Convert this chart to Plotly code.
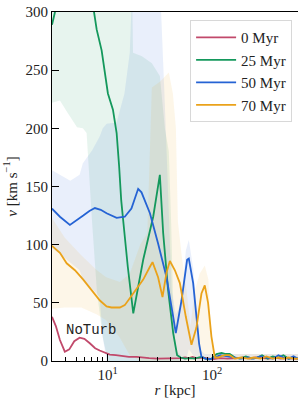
import plotly.graph_objects as go
import numpy as np

# ---- data (r in kpc, v in km/s) ----
labels = ["0 Myr", "25 Myr", "50 Myr", "70 Myr"]
colors = ["#c1496b", "#14985c", "#2563d4", "#eaa21a"]
band_colors = ["rgba(193,73,107,0.10)", "rgba(20,152,92,0.10)",
               "rgba(37,99,212,0.10)", "rgba(234,162,26,0.10)"]

r_0 = [2.94, 3.2, 3.5, 3.9, 4.3, 4.8, 5.4, 6.0, 6.8, 7.6, 8.4, 9.5, 10.5, 12, 14, 16, 19, 22, 25, 30,
       35, 40, 45, 50, 55, 60, 65, 70, 80, 90, 100, 110, 120, 140, 160, 180, 200, 230, 260, 300,
       350, 400, 450, 500, 560, 620, 662]
v_0 = [38, 30, 18, 8, 10, 17, 20, 19, 15, 11, 9, 7, 5.5, 5, 4, 3.5, 3.5, 2.8, 2.5, 2,
       2, 2, 2, 2.5, 3, 2.5, 3.5, 2.5, 3, 2, 1.5, 2, 2.5, 2, 2, 2.5, 3, 2, 3, 2.5,
       2, 3, 2, 2.5, 2, 2, 2]

r_25 = [2.94, 3.14, 3.6, 4.2, 5.0, 5.8, 6.6, 7.45, 7.86, 8.77, 10.07, 11.25, 12.2, 12.9, 13.5, 14.2,
        15.6, 17.6, 21.9, 27.3, 31.6, 34.0, 37.9, 42.4, 46.2, 50, 55, 62, 68, 74, 79, 86, 93, 99,
        110, 123, 135, 147, 165, 184, 210, 240, 270, 300, 340, 380, 430, 480, 540, 600, 662]
v_25 = [289, 300, 330, 355, 365, 355, 330, 300, 285, 267, 230, 216, 196, 167, 138, 118,
        81, 41, 87, 124, 160, 110, 61, 24, 5, 3, 2, 2.5, 2, 3, 3.5, 2, 1.5, 2,
        6, 7, 6, 6, 3, 2, 4, 2, 3, 5, 2, 4, 3, 5, 2, 3, 2]

r_50 = [2.94, 3.02, 3.5, 4.36, 5.1, 5.85, 6.7, 7.56, 8.6, 9.78, 12.2, 14.6, 16.9, 18.3, 19.6, 21.1,
        25.4, 30.4, 36.6, 42.4, 44.9, 50.9, 57.6, 59.8, 65.8, 70.8, 75, 79, 86, 95, 105, 120, 140,
        165, 190, 220, 250, 290, 330, 380, 430, 480, 540, 600, 662]
v_50 = [131, 130, 124, 117, 121, 125, 129, 131.5, 130, 127, 123, 124, 131, 140, 148, 145,
        127, 101, 72, 38, 24, 52, 87, 88, 67, 38, 15, 3.5, 2, 1.5, 3, 5, 4,
        3, 2, 3, 2, 4, 3, 2, 5, 3, 2, 4, 2]

r_70 = [2.94, 3.02, 3.5, 4.06, 4.87, 5.85, 7.03, 8.44, 9.78, 10.9, 13.1, 14.6, 16.3, 21.9, 25.4,
        26.9, 30.4, 33.5, 36.6, 39.4, 44, 49.1, 56, 63.4, 70.8, 79, 85, 91.4, 98.4, 106, 115, 124,
        135, 147, 165, 190, 220, 250, 290, 330, 380, 430, 480, 540, 600, 662]
v_70 = [99, 98, 93, 84, 78, 70, 61, 52, 47, 46, 46, 48, 54, 70, 81,
        85, 72, 55, 76, 86, 78, 67, 38, 14, 29, 58, 65, 50, 21, 3, 3, 4.5,
        5, 5, 2, 3, 2, 3, 2, 4, 2, 3, 2, 3, 2, 2]

# scatter bands (lower / upper envelopes)
band_r_25 = [2.94, 3.5, 4.1, 5.1, 5.8, 6.3, 7.1, 7.9, 9.0, 10.1, 13.1, 16.7, 17.5, 21.3, 26.5,
             31.6, 35.3, 38.5, 40.5, 42.1, 44.0, 46.0, 50]
band_lo_25 = [222, 224, 214, 201, 200, 196, 120, 60, 20, 0, 0, 0, 0, 0, 0,
              0, 0, 0, 0, 0, 0, 0, 0]
band_hi_25 = [400, 400, 400, 400, 400, 400, 400, 400, 400, 400, 400, 400, 265, 262, 256,
              245, 200, 180, 120, 60, 20, 8, 5]

band_r_50 = [2.94, 3.5, 4.4, 5.4, 5.8, 7.1, 8.4, 9.0, 9.8, 12.2, 14.5, 16.3, 17.0, 30, 32.5,
             35.3, 38.5, 41.0, 44.9, 50.9, 56, 59.8, 65.8, 71.9, 75.9, 85, 100, 662]
band_lo_50 = [97, 92, 85, 78, 70, 62, 55, 20, 0, 0, 0, 0, 0, 0, 0,
              0, 0, 0, 0, 0, 0, 10, 5, 0, 0, 0, 0, 0]
band_hi_50 = [164, 160, 155, 160, 170, 181, 193, 200, 204, 205, 230, 265, 310, 310, 300,
              220, 120, 60, 40, 50, 95, 104, 80, 40, 10, 6, 6, 6]

band_r_70 = [2.94, 3.9, 5.6, 7.9, 9.7, 13.1, 16.3, 20.5, 24.0, 26.5, 31.6, 35.3, 38.5, 42.1, 45.0,
             47.0, 51.2, 57.0, 62.0, 68.0, 75.9, 85, 92.0, 97.0, 104, 662]
band_lo_70 = [45, 46, 46, 40, 35, 20, 5, 0, 0, 0, 0, 0, 0, 0, 0,
              0, 0, 0, 0, 0, 0, 0, 0, 0, 0, 0]
band_hi_70 = [123, 106, 91, 78, 72, 68, 75, 100, 110, 235, 240, 245, 248, 230, 200,
              120, 90, 60, 30, 60, 75, 82, 70, 20, 6, 6]

series = [(r_0, v_0), (r_25, v_25), (r_50, v_50), (r_70, v_70)]
bands = [None, (band_r_25, band_lo_25, band_hi_25), (band_r_50, band_lo_50, band_hi_50),
         (band_r_70, band_lo_70, band_hi_70)]

FONT = "Liberation Serif, DejaVu Serif, serif"
fig = go.Figure()

for i, b in enumerate(bands):
    if b is None:
        continue
    br, blo, bhi = b
    fig.add_trace(go.Scatter(
        x=list(br) + list(br)[::-1], y=list(bhi) + list(blo)[::-1],
        fill="toself", fillcolor=band_colors[i], line=dict(width=0),
        mode="lines", showlegend=False, hoverinfo="skip"))

for i, (r, v) in enumerate(series):
    fig.add_trace(go.Scatter(x=r, y=v, mode="lines", name=labels[i],
                             line=dict(color=colors[i], width=1.8)))

fig.add_annotation(x=np.log10(6.9), y=27, xref="x", yref="y", text="NoTurb",
                   showarrow=False,
                   font=dict(family="Liberation Mono, DejaVu Sans Mono, monospace", size=14, color="#222"))

minor_vals = [3, 4, 5, 6, 7, 8, 9, 20, 30, 40, 50, 60, 70, 80, 90, 200, 300, 400, 500, 600]

fig.update_layout(
    width=298, height=399,
    margin=dict(l=52, r=0, t=12, b=38),
    paper_bgcolor="white", plot_bgcolor="white",
    font=dict(family=FONT, size=15, color="#222"),
    showlegend=True,
    legend=dict(x=0.976, y=0.977, xanchor="right", yanchor="top",
                bgcolor="rgba(255,255,255,0.85)", bordercolor="#d8d8d8", borderwidth=1,
                font=dict(family=FONT, size=15, color="#222"), itemwidth=40,
                tracegroupgap=0),
    xaxis=dict(type="log", range=[np.log10(2.94), np.log10(662)],
               showline=True, linecolor="black", linewidth=1.2, mirror=True,
               showgrid=False, zeroline=False,
               ticks="inside", ticklen=7, tickwidth=1, tickcolor="black",
               tickvals=[10, 100], ticktext=["10<sup>1</sup>", "10<sup>2</sup>"],
               tickfont=dict(family=FONT, size=15, color="#222"),
               minor=dict(ticks="inside", ticklen=4, tickwidth=1, tickcolor="black",
                          tickvals=minor_vals, showgrid=False),
               title=dict(text="<i>r</i> [kpc]", standoff=2,
                          font=dict(family=FONT, size=15)),
               automargin=False),
    yaxis=dict(range=[0, 300], showline=True, linecolor="black", linewidth=1.2,
               showgrid=False, zeroline=False,
               ticks="inside", ticklen=7, tickwidth=1, tickcolor="black",
               tickvals=[0, 50, 100, 150, 200, 250, 300],
               tickfont=dict(family=FONT, size=15, color="#222"),
               title=dict(text="<i>v</i> [km s<sup>−1</sup>]", standoff=4,
                          font=dict(family=FONT, size=15)),
               automargin=False),
)

fig.write_html("out.html", config={"displayModeBar": False},
               post_script="document.body.style.margin='0px';document.body.style.overflow='hidden';")
